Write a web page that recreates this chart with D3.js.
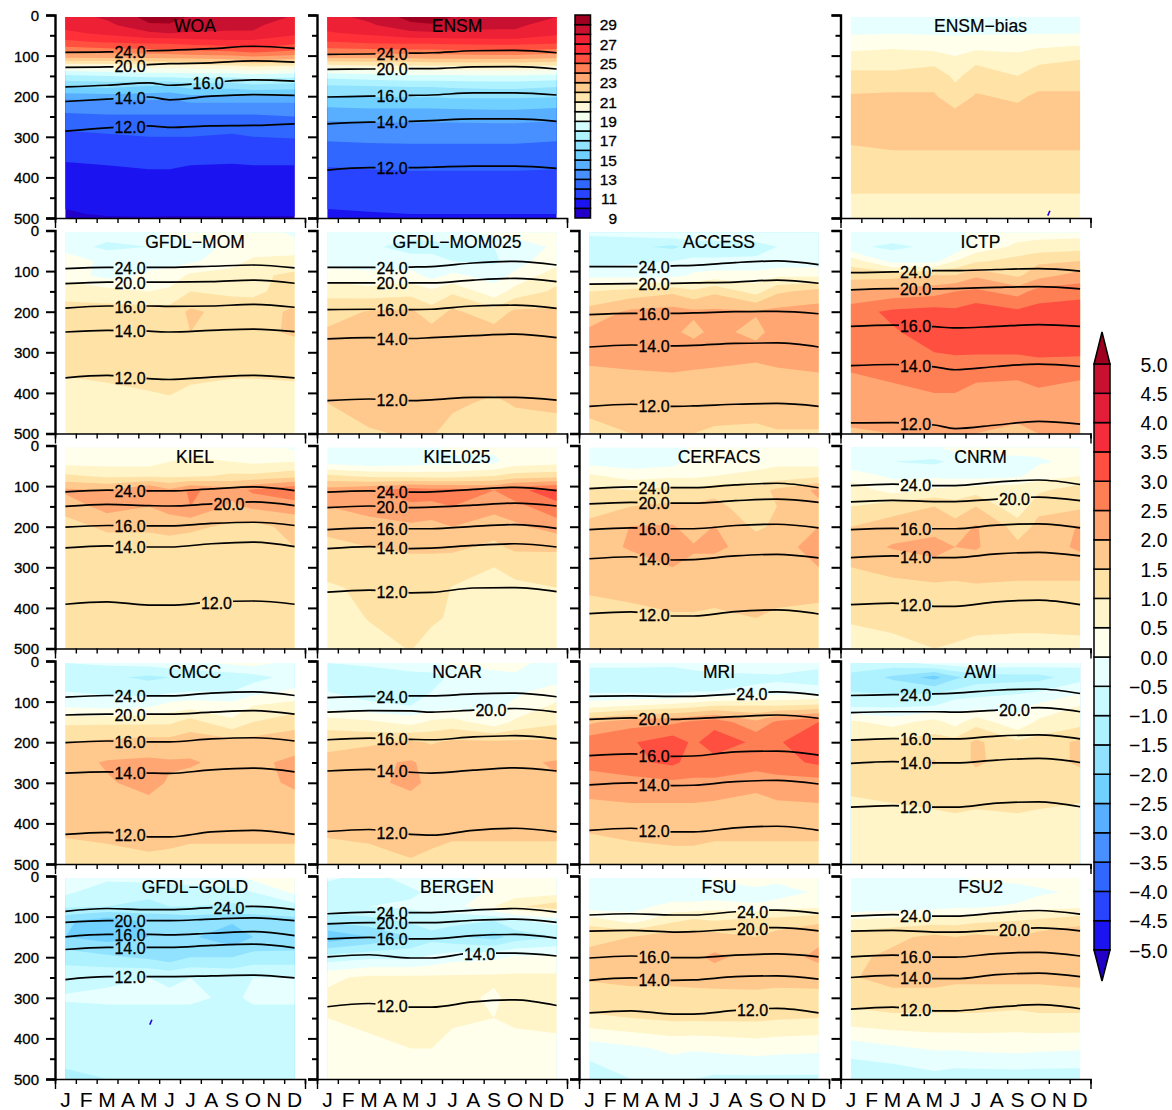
<!DOCTYPE html>
<html><head><meta charset="utf-8">
<script src="https://cdn.jsdelivr.net/npm/d3@7"></script>
<style>html,body{margin:0;background:#fff}svg{display:block}text{font-family:"Liberation Sans",Arial,sans-serif;fill:#000}</style>
</head><body><div id="c"></div>
<script>
const monthLabels = ["J","F","M","A","M","J","J","A","S","O","N","D"];
const fieldMonths = [0,2,4,5,6,8,9,11];
const lineMonths = [0,2,4,5,7,9,11];
const biasDepths = [5,40,75,110,150,200,250,300,350,425,500];
const tempDepths = [5,25,45,65,85,105,125,150,175,210,245,285,330,370,430,490,500];
const contourLevels = [24,20,16,14,12];
const depthMajor = [0,100,200,300,400,500];
const depthMinor = [50,150,250,350,450];
const biasLevels = [-5,-4.5,-4,-3.5,-3,-2.5,-2,-1.5,-1,-0.5,0,0.5,1,1.5,2,2.5,3,3.5,4,4.5,5];
const biasColors = ["#2200c8","#1c14f0","#2844ff","#3068ff","#4890ff","#58aeff","#70d0ff","#90e2ff","#aef2ff","#c8faff","#e8ffff","#ffffec","#fff5c8","#ffe2a6","#ffc88c","#ffa672","#ff7f55","#ff4f40","#f42c3c","#e21e38","#c81030","#a00020"];
const tempLevels = [9,10,11,12,13,14,15,16,17,18,19,20,21,22,23,24,25,26,27,28,29,30];
const tempColors = ["#2200c8","#1c14f0","#2844ff","#3068ff","#4890ff","#58aeff","#70d0ff","#90e2ff","#aef2ff","#d4fdff","#f4fff0","#fff8d8","#ffe6ac","#ffcc8e","#ffa672","#ff8055","#ff5040","#ff3038","#ee2036","#c81030","#a00020"];
const tempBarLabels = [29,27,25,23,21,19,17,15,13,11,9];

const WOA_field = [
[27.5,28.2,29.3,29.4,28.9,28.6,28.5,27.9],[27.3,27.7,28.9,28.9,28.4,28.2,28.2,27.4],[26.8,27.2,27.8,28.0,27.9,27.9,27.9,27.2],
[25.8,26.2,26.4,26.4,26.6,26.8,26.8,26.4],[24.6,24.8,24.9,25.0,25.2,25.4,25.8,25.2],[23.0,23.1,23.1,23.2,23.3,23.5,23.7,23.4],
[20.3,20.4,20.6,20.6,20.7,20.9,21.2,20.9],[17.8,18.0,18.3,18.3,18.4,18.3,18.6,18.3],[16.1,16.3,16.0,15.9,16.4,16.4,16.7,16.5],
[13.9,14.0,14.0,13.9,14.2,14.2,14.2,14.2],[12.9,13.0,13.0,13.0,13.0,13.0,13.0,13.1],[12.0,12.1,12.2,12.2,12.2,12.1,12.2,12.3],
[11.4,11.5,11.6,11.6,11.6,11.5,11.6,11.6],[10.9,11.0,11.1,11.1,11.0,10.95,11.0,11.0],[10.4,10.5,10.5,10.5,10.5,10.4,10.5,10.5],
[9.9,10.1,10.1,10.05,10.05,10.05,10.05,10.05],[9.8,9.9,9.95,9.95,9.95,9.95,9.95,9.95]];
const ENSM_field = [
[27.6,28.3,29.3,29.5,29.0,28.6,28.6,28.0],[27.3,27.8,28.8,28.9,28.3,28.2,28.2,27.5],[26.9,27.2,27.7,27.8,27.8,27.8,27.8,27.2],
[26.0,26.3,26.4,26.4,26.5,26.6,26.6,26.4],[24.8,24.9,25.0,25.0,25.1,25.2,25.2,24.9],[23.1,23.2,23.2,23.3,23.3,23.4,23.4,23.2],
[20.7,20.9,20.9,21.0,21.0,21.1,21.1,20.9],[18.4,18.6,18.8,18.8,18.8,18.9,18.9,18.7],[16.9,17.0,17.1,17.1,17.2,17.3,17.3,17.1],
[15.6,15.7,15.7,15.7,15.8,15.8,15.8,15.7],[14.4,14.5,14.5,14.5,14.5,14.6,14.6,14.4],[13.4,13.5,13.5,13.5,13.5,13.5,13.5,13.4],
[12.7,12.75,12.8,12.8,12.8,12.8,12.8,12.7],[12.05,12.1,12.15,12.15,12.15,12.15,12.15,12.1],[11.4,11.5,11.5,11.5,11.5,11.5,11.5,11.5],
[10.9,10.95,11.0,11.0,11.0,11.0,11.0,11.0],[10.85,10.9,10.95,10.95,10.95,10.95,10.95,10.9]];
const ENSM_bias = [
[-.2,-.2,-.1,-.1,-.1,-.1,-.1,-.1],[-.1,-.1,-.1,-.1,-.1,-.1,-.1,-.1],[.3,.4,.3,.2,.3,.3,.4,.5],[.8,.8,.8,.6,.9,.7,.9,1.0],
[1.1,1.1,1.3,.9,1.2,1.0,1.2,1.2],[1.55,1.6,1.55,1.2,1.55,1.4,1.6,1.6],[1.8,1.8,1.8,1.7,1.7,1.7,1.7,1.8],[1.6,1.7,1.7,1.7,1.7,1.7,1.7,1.7],
[1.35,1.4,1.4,1.4,1.4,1.4,1.4,1.4],[1.05,1.05,1.05,1.05,1.05,1.05,1.05,1.05],[.8,.8,.8,.8,.8,.8,.8,.8]];
const GFDL_MOM_bias = [
[-.2,-.3,-.2,.1,.2,.3,.3,-.1],[-.3,-.6,-.5,-.3,-.2,.1,.2,.2],[.4,-.2,-.2,-.2,-.1,.3,.6,.7],[.3,-.2,.1,.2,.6,.7,.9,1.1],
[.8,.7,.5,.6,1.0,.9,.9,1.2],[1.2,1.2,1.25,1.2,1.6,1.3,1.25,1.6],[1.2,1.3,1.5,1.3,1.5,1.3,1.3,1.6],[1.1,1.2,1.2,1.2,1.2,1.2,1.2,1.2],
[1.03,1.1,1.15,1.15,1.1,1.05,1.05,1.08],[.8,.8,.9,.95,.85,.8,.8,.8],[.7,.7,.7,.7,.7,.7,.7,.7]];
const GFDL_MOM025_bias = [
[-.3,-.4,-.3,-.2,-.1,.1,.2,.1],[-.3,-.4,-.7,-.7,-.6,-.5,-.3,.1],[-.2,-.2,-.3,-.3,-.5,-.6,-.2,.3],[.2,.1,.2,-.2,.1,-.2,.1,.8],
[.9,.7,.8,.6,.9,.2,.7,1.1],[1.2,1.55,1.6,1.2,1.6,1.2,1.6,1.6],[1.6,1.7,1.8,1.7,1.8,1.7,1.8,1.8],[1.8,1.8,1.8,1.8,1.8,1.8,1.8,1.8],
[1.8,1.8,1.8,1.8,1.8,1.8,1.8,1.8],[1.5,1.7,1.7,1.7,1.6,1.4,1.55,1.6],[1.2,1.45,1.55,1.55,1.3,1.2,1.2,1.3]];
const ACCESS_bias = [
[-.4,-.3,-.1,-.1,-.1,-.1,-.1,-.1],[-.8,-.9,-1.1,-.8,-.8,-.7,-.5,-.3],[-.7,-.6,-.5,-.4,-.4,-.4,-.4,-.3],[-.2,-.2,-.2,.1,.2,.2,.4,.4],
[1.0,1.2,1.4,1.1,1.4,.8,1.4,1.7],[1.7,2.1,2.2,2.1,2.1,2.05,2.15,2.2],[2.1,2.3,2.1,1.85,2.15,1.85,2.2,2.2],[2.2,2.3,2.3,2.3,2.3,2.2,2.3,2.3],
[1.9,1.95,2.0,1.95,1.9,1.8,1.9,2.0],[1.7,1.8,1.8,1.8,1.8,1.7,1.8,1.8],[1.3,1.5,1.55,1.5,1.4,1.4,1.45,1.45]];
const ICTP_bias = [
[-.2,-.2,-.1,-.1,.1,.3,.3,.3],[-.4,-.6,-.4,-.4,.2,.6,.7,.8],[.8,-.2,-.2,.5,.9,1.2,1.4,1.5],[1.3,1.3,1.5,1.5,1.9,1.4,1.8,2.2],
[2.0,2.2,2.3,2.5,2.6,2.3,2.7,2.8],[2.8,3.1,3.2,3.1,3.3,3.1,3.2,3.3],[2.7,2.95,3.2,3.3,3.3,3.3,3.3,3.3],[2.7,2.8,3.0,3.05,3.05,3.05,3.1,3.1],
[2.5,2.6,2.7,2.7,2.6,2.6,2.7,2.6],[2.2,2.3,2.4,2.4,2.3,2.2,2.3,2.2],[1.95,2.0,2.0,2.0,2.0,1.9,2.0,2.0]];
const KIEL_bias = [
[.1,.1,.1,.2,.3,.2,.2,-.1],[.3,.3,.3,.5,.6,.5,.4,.5],[1.1,.9,.9,.9,.9,1.1,1.1,1.3],[2.1,2.0,2.6,2.1,2.6,2.2,2.6,3.0],
[1.7,2.2,2.0,2.2,2.5,1.9,2.1,2.2],[1.3,1.6,1.6,1.7,1.6,1.4,1.3,1.7],[1.25,1.25,1.25,1.25,1.25,1.25,1.25,1.5],[1.2,1.2,1.2,1.2,1.2,1.2,1.2,1.2],
[1.2,1.2,1.2,1.2,1.2,1.2,1.2,1.2],[1.2,1.2,1.2,1.2,1.2,1.2,1.2,1.2],[1.15,1.15,1.15,1.15,1.15,1.15,1.15,1.15]];
const KIEL025_bias = [
[-.3,-.2,-.1,-.1,.2,.1,.2,.2],[-.2,-.4,-.3,-.2,-.2,-.1,.2,.3],[1.1,.9,.8,.8,.8,1.0,1.2,1.3],[2.2,2.4,2.8,2.7,2.7,2.5,2.9,3.2],
[2.0,2.1,2.4,2.4,2.5,2.2,2.3,2.9],[1.7,1.9,1.9,1.8,2.0,1.7,1.9,2.2],[1.3,1.5,1.6,1.6,1.6,1.4,1.6,1.6],[1.25,1.3,1.3,1.3,1.25,1.0,1.15,1.2],
[.9,1.15,1.2,1.2,.98,.8,.9,1.0],[.8,1.02,1.15,1.06,.95,.7,.7,.7],[.7,.85,1.02,.85,.7,.7,.7,.6]];
const CERFACS_bias = [
[-.3,-.1,-.2,.1,.2,.5,.3,.2],[-.2,-.3,-.2,.1,.2,.2,.4,.3],[.6,.3,.4,.4,.5,.7,.7,.9],[1.1,1.0,1.2,1.1,1.3,1.3,1.6,2.1],
[1.35,1.5,1.6,1.6,1.7,1.1,1.5,1.9],[1.6,2.02,2.05,1.75,2.02,1.4,1.6,2.0],[1.8,2.05,2.2,2.05,2.1,1.8,1.9,2.1],[1.7,1.8,2.0,1.9,1.8,1.7,1.7,2.0],
[1.6,1.7,1.7,1.7,1.7,1.7,1.7,1.7],[1.2,1.3,1.45,1.45,1.4,1.5,1.4,1.3],[1.2,1.2,1.2,1.2,1.2,1.2,1.2,1.2]];
const CNRM_bias = [
[-.3,-.2,-.1,.2,.3,.4,.2,.2],[-.4,-.5,-.6,-.4,-.3,-.3,-.1,.2],[.3,-.1,-.1,-.2,-.2,-.1,.3,.5],[.8,.3,.6,.7,.8,.9,.9,1.3],
[1.0,1.3,1.5,1.2,1.5,.6,1.4,1.4],[1.5,1.7,1.8,1.7,2.05,1.3,1.6,2.05],[1.7,2.05,2.2,2.0,2.05,1.6,1.7,2.1],[1.5,1.6,1.8,1.7,1.7,1.6,1.6,1.7],
[1.35,1.4,1.4,1.4,1.45,1.45,1.45,1.4],[1.05,1.1,1.2,1.2,1.2,1.2,1.2,1.2],[.8,.9,1.0,.95,.85,.8,.8,.85]];
const CMCC_bias = [
[-.5,-.4,-.3,-.2,-.1,.1,.2,-.2],[-.7,-.9,-1.1,-1.0,-.9,-.8,-.7,-.3],[-.5,-.6,-.7,-.6,-.5,-.5,-.2,.1],[-.1,-.2,-.1,.2,.3,.2,.5,.7],
[.9,.9,.9,.9,1.2,.6,1.0,1.3],[1.5,1.6,1.7,1.7,1.8,1.7,1.7,1.8],[1.8,2.05,2.1,2.05,2.05,1.85,1.9,2.1],[1.8,1.95,2.15,1.95,1.85,1.8,1.8,2.1],
[1.8,1.85,1.9,1.85,1.8,1.8,1.8,1.8],[1.55,1.6,1.65,1.6,1.6,1.6,1.6,1.6],[1.2,1.3,1.4,1.4,1.3,1.3,1.3,1.3]];
const NCAR_bias = [
[-.5,-.4,-.2,-.1,.1,.2,.2,-.3],[-.7,-.8,-.7,-.7,-.4,-.2,-.1,-.2],[-.5,-.7,-.6,-.5,-.2,-.2,-.1,.2],[-.3,-.4,-.5,-.3,-.2,-.1,.1,.6],
[.8,.6,.3,.6,.7,.2,.6,.9],[1.3,1.4,1.6,1.45,1.6,1.6,1.6,1.6],[1.7,1.9,2.05,1.85,1.95,1.85,1.9,2.05],[1.8,1.9,2.1,1.9,1.85,1.8,1.8,1.95],
[1.85,1.85,1.85,1.85,1.85,1.85,1.85,1.85],[1.55,1.6,1.7,1.6,1.6,1.6,1.6,1.6],[1.2,1.3,1.45,1.4,1.2,1.2,1.2,1.2]];
const MRI_bias = [
[-.4,-.3,-.3,-.2,-.1,-.2,-.1,-.2],[-.7,-.9,-1.0,-.8,-.7,-.6,-.6,-.9],[-.6,-.6,-.7,-.5,-.5,-.4,-.3,-.2],[.3,.5,.7,.8,1.0,1.0,1.0,1.1],
[1.9,2.3,2.4,2.6,2.8,2.1,2.6,3.0],[2.8,2.95,3.3,2.9,3.3,2.9,2.95,3.3],[2.7,2.9,3.1,2.8,2.8,2.8,2.8,3.1],[2.2,2.3,2.4,2.4,2.4,2.1,2.3,2.3],
[1.95,2.0,2.0,2.0,1.95,1.9,1.95,2.0],[1.5,1.6,1.7,1.7,1.6,1.6,1.6,1.6],[1.2,1.2,1.2,1.2,1.2,1.2,1.2,1.2]];
const AWI_bias = [
[-.8,-.7,-.3,-.2,-.1,-.2,-.2,-.4],[-1.1,-1.6,-2.2,-1.6,-1.3,-1.2,-1.2,-.7],[-1.0,-1.1,-1.1,-.9,-.7,-.6,-.5,-.1],[-.6,-.6,-.5,-.2,-.2,-.1,.1,.5],
[.6,.3,.7,.3,.8,.1,.6,.8],[1.05,1.1,1.2,1.2,1.6,1.1,1.2,1.6],[1.2,1.3,1.55,1.2,1.6,1.2,1.2,1.6],[1.1,1.2,1.2,1.2,1.2,1.2,1.2,1.2],
[.95,1.0,1.05,1.1,1.05,1.1,1.05,1.0],[.8,.8,.8,.8,.8,.8,.8,.8],[.8,.8,.8,.8,.8,.8,.8,.8]];
const GFDL_GOLD_bias = [
[-.3,-.4,-.3,-.3,-.3,-.1,.1,.2],[-.4,-.8,-.9,-.8,-.7,-.7,-.5,.1],[-.9,-1.0,-1.1,-1.0,-1.0,-1.1,-1.0,-.7],[-1.9,-2.3,-1.9,-1.9,-1.8,-1.9,-1.9,-1.8],
[-2.0,-2.2,-2.0,-1.9,-1.9,-2.4,-2.0,-1.9],[-1.2,-1.4,-1.6,-1.8,-1.5,-1.5,-1.3,-1.3],[-.7,-.6,-.5,-.6,-.5,-.6,-.5,-.5],[-.45,-.4,-.4,-.4,-.4,-.6,-.4,-.4],
[-.7,-.7,-.7,-.7,-.7,-.7,-.7,-.7],[-.8,-.8,-.8,-.8,-.8,-.8,-.8,-.8],[-1.1,-1.0,-.9,-.9,-.9,-.9,-1.0,-1.0]];
const BERGEN_bias = [
[-.4,-.7,-.3,-.2,-.3,.2,.3,.2],[-.8,-.7,-.6,-.4,-.3,.1,.2,.3],[-.6,-.5,-.4,-.3,-.2,.5,.9,1.3],[-1.4,-1.2,-.9,-.7,-.8,-1.0,-.6,-.3],
[-2.4,-2.0,-1.5,-1.2,-1.4,-1.7,-1.3,-1.0],[-.8,-.6,-.6,-.4,-.2,-.1,.1,.1],[.4,.6,.6,.6,.6,.6,.6,.6],[.6,.7,.7,.7,.7,.4,.7,.7],
[.5,.6,.7,.7,.6,.5,.6,.7],[.3,.4,.5,.5,.3,.3,.3,.3],[.3,.3,.3,.3,.3,.3,.3,.3]];
const FSU_bias = [
[-.2,-.3,-.2,-.2,.1,.5,.2,.1],[-.4,-.4,-.4,-.4,-.4,-.3,-.3,.1],[-.3,-.2,.2,.2,.3,.1,.3,.4],[.8,.3,.9,1.1,1.0,1.2,1.2,1.4],
[1.4,1.5,1.8,1.7,1.7,1.5,1.7,1.9],[1.6,1.8,1.9,1.9,2.1,1.8,1.8,2.1],[1.55,1.65,1.65,1.7,1.75,1.8,1.7,1.75],[1.3,1.3,1.3,1.3,1.3,1.3,1.3,1.3],
[.9,1.0,1.1,1.1,1.1,1.1,1.05,1.0],[-.3,-.1,.1,.05,.1,.2,.15,.1],[-.8,-.5,-.4,-.5,-.6,-.6,-.6,-.6]];
const FSU2_bias = [
[-.1,-.2,-.2,-.1,.1,.2,.2,.1],[-.4,-.5,-.5,-.4,-.3,-.3,-.1,.1],[-.4,-.3,-.2,-.1,-.1,.1,.3,.4],[.6,.7,.8,.8,.9,1.0,1.1,1.3],
[1.2,1.4,1.6,1.5,1.6,1.5,1.7,1.9],[1.4,1.6,1.8,1.7,1.65,1.6,1.7,1.95],[1.45,1.7,1.7,1.6,1.6,1.6,1.6,1.7],[1.2,1.3,1.3,1.3,1.3,1.3,1.3,1.3],
[.8,.9,.9,.9,.9,.8,.9,.9],[-.3,-.1,.05,.05,.1,.15,.1,.05],[-.9,-.9,-.7,-.8,-.8,-.8,-.8,-.8]];

// isotherm depths, one row per level in contourLevels order
const WOA_lines = [[92,91,88,87,83,77,82],[129,128,122,120,118,113,116],[177,173,167,173,166,160,163],[213,207,202,209,200,196,198],[286,278,273,277,273,272,268]];
const ENSM_lines = [[97,96,94,93,88,87,93],[134,133,132,132,128,127,133],[202,200,198,197,192,192,197],[268,264,262,260,256,256,262],[382,376,376,375,372,372,378]];
const GFDL_MOM_lines = [[94,91,91,91,88,85,92],[131,127,127,127,126,122,130],[191,186,186,187,186,182,189],[250,246,248,250,246,243,249],[363,357,365,367,361,357,363]];
const GFDL_MOM025_lines = [[91,91,90,89,80,76,85],[129,129,129,129,122,118,126],[195,194,195,194,186,184,192],[267,264,266,264,259,255,264],[419,415,419,417,411,411,418]];
const ACCESS_lines = [[89,89,87,86,79,75,84],[132,131,130,129,127,122,130],[207,204,204,203,200,199,205],[287,282,284,283,278,277,287],[433,428,433,432,428,426,433]];
const ICTP_lines = [[104,102,99,99,96,94,100],[146,143,144,143,140,138,144],[236,233,237,240,236,232,236],[333,330,336,343,335,329,335],[474,473,479,488,479,470,477]];
const KIEL_lines = [[114,110,112,112,107,102,111],[150,145,148,149,144,139,148],[201,197,198,198,192,189,197],[252,247,250,250,242,238,249],[391,385,393,393,386,383,391]];
const KIEL025_lines = [[115,112,115,114,108,103,111],[153,149,153,152,147,142,149],[207,203,205,205,199,195,204],[254,249,254,253,246,242,250],[361,356,363,362,351,350,360]];
const CERFACS_lines = [[106,102,104,104,97,93,104],[144,140,142,142,136,132,140],[207,203,205,205,197,194,203],[279,274,282,281,272,268,277],[414,410,420,420,409,405,415]];
const CNRM_lines = [[99,95,99,99,90,85,96],[139,135,138,138,132,127,136],[207,204,205,205,196,193,203],[276,272,276,276,267,263,272],[392,388,396,396,385,381,392]];
const CMCC_lines = [[89,85,86,86,79,76,85],[133,131,131,131,126,122,131],[201,197,199,199,192,189,197],[276,273,276,277,268,264,273],[427,422,433,433,421,417,427]];
const NCAR_lines = [[90,87,86,86,81,79,88],[126,122,123,126,121,117,126],[194,190,193,194,187,184,192],[271,267,274,276,269,263,271],[420,415,427,429,417,412,421]];
const MRI_lines = [[87,86,87,87,81,76,84],[144,140,144,142,137,133,141],[233,229,235,234,224,222,232],[305,300,307,306,297,294,303],[417,412,421,421,411,407,417]];
const AWI_lines = [[85,83,81,79,72,69,80],[127,125,125,126,121,115,125],[195,191,192,192,185,182,192],[252,248,251,251,244,240,250],[360,356,360,360,350,347,359]];
const GFDL_GOLD_lines = [[87,80,83,83,78,75,83],[114,110,110,110,106,103,110],[150,144,144,145,141,137,147],[181,176,176,176,171,168,177],[255,248,248,248,246,244,251]];
const BERGEN_lines = [[93,89,90,90,84,80,89],[118,115,115,115,109,106,114],[155,151,155,155,147,144,153],[199,194,202,202,190,190,197],[322,314,323,323,310,305,319]];
const FSU_lines = [[96,93,96,96,88,84,92],[136,134,138,137,131,127,135],[202,197,201,201,195,192,199],[257,251,257,256,248,246,254],[337,332,340,340,331,326,337]];
const FSU2_lines = [[99,95,99,99,91,85,94],[136,134,138,138,133,128,135],[199,195,200,200,191,188,197],[250,245,253,253,243,239,248],[328,323,332,332,323,317,327]];

// month of the label on each isotherm, in contourLevels order
const labelDefault = [3.1,3.1,3.1,3.1,3.1];
const WOA_labels = [3.1,3.1,6.85,3.1,3.1];
const KIEL_labels = [3.1,7.85,3.1,3.1,7.25];
const LATE20_labels = [3.1,7.85,3.1,3.1,3.1];
const MRI_labels = [7.8,3.1,3.1,3.1,3.1];
const GOLD_labels = [7.85,3.1,3.1,3.1,3.1];
const BERGEN_labels = [3.1,3.1,3.1,7.3,3.1];
const FSU_labels = [7.83,7.83,3.1,3.1,7.83];

const panels = [
 {name:"WOA",col:0,row:0,field:WOA_field,depths:tempDepths,temp:true,lines:WOA_lines,labels:WOA_labels},
 {name:"ENSM",col:1,row:0,field:ENSM_field,depths:tempDepths,temp:true,lines:ENSM_lines,labels:labelDefault},
 {name:"ENSM\u2212bias",col:3,row:0,field:ENSM_bias,speck:[9.5,488]},
 {name:"GFDL\u2212MOM",col:0,row:1,field:GFDL_MOM_bias,lines:GFDL_MOM_lines,labels:labelDefault},
 {name:"GFDL\u2212MOM025",col:1,row:1,field:GFDL_MOM025_bias,lines:GFDL_MOM025_lines,labels:labelDefault},
 {name:"ACCESS",col:2,row:1,field:ACCESS_bias,lines:ACCESS_lines,labels:labelDefault},
 {name:"ICTP",col:3,row:1,field:ICTP_bias,lines:ICTP_lines,labels:labelDefault},
 {name:"KIEL",col:0,row:2,field:KIEL_bias,lines:KIEL_lines,labels:KIEL_labels},
 {name:"KIEL025",col:1,row:2,field:KIEL025_bias,lines:KIEL025_lines,labels:labelDefault},
 {name:"CERFACS",col:2,row:2,field:CERFACS_bias,lines:CERFACS_lines,labels:labelDefault},
 {name:"CNRM",col:3,row:2,field:CNRM_bias,lines:CNRM_lines,labels:LATE20_labels},
 {name:"CMCC",col:0,row:3,field:CMCC_bias,lines:CMCC_lines,labels:labelDefault},
 {name:"NCAR",col:1,row:3,field:NCAR_bias,lines:NCAR_lines,labels:LATE20_labels},
 {name:"MRI",col:2,row:3,field:MRI_bias,lines:MRI_lines,labels:MRI_labels},
 {name:"AWI",col:3,row:3,field:AWI_bias,lines:AWI_lines,labels:LATE20_labels},
 {name:"GFDL\u2212GOLD",col:0,row:4,field:GFDL_GOLD_bias,lines:GFDL_GOLD_lines,labels:GOLD_labels,speck:[4.1,360]},
 {name:"BERGEN",col:1,row:4,field:BERGEN_bias,lines:BERGEN_lines,labels:BERGEN_labels},
 {name:"FSU",col:2,row:4,field:FSU_bias,lines:FSU_lines,labels:FSU_labels},
 {name:"FSU2",col:3,row:4,field:FSU2_bias,lines:FSU2_lines,labels:LATE20_labels}
];

const W=1172,H=1110;
const colX=[55,317,579,840.5], rowY=[15,230.5,445.5,661,876], pw=250, ph=203;
const svg=d3.select("#c").append("svg").attr("width",W).attr("height",H);
const fmt=d3.format(".1f"), minus=s=>String(s).replace("-","\u2212");

panels.forEach((p,pi)=>{
  const x0=colX[p.col], y0=rowY[p.row];
  const x=d3.scaleLinear([-0.5,11.5],[x0,x0+pw]);
  const y=d3.scaleLinear([0,500],[y0,y0+ph]);
  const g=svg.append("g");
  const depths=p.depths||biasDepths;
  const nx=fieldMonths.length, ny=depths.length;
  const ixM=d3.scaleLinear(d3.range(nx),fieldMonths).clamp(true);
  const iyD=d3.scaleLinear(d3.range(ny),depths).clamp(true);
  const proj=d3.geoTransform({point(a,b){this.stream.point(x(ixM(a-0.5)),y(iyD(b-0.5)));}});
  const path=d3.geoPath(proj);
  const levels=p.temp?[-99].concat(tempLevels.slice(1,21)):[-99].concat(biasLevels);
  const cols=p.temp?tempColors:biasColors;
  const values=p.field.flat(), fieldMin=d3.min(values);
  const conts=d3.contours().size([nx,ny]).smooth(true).thresholds(levels)(values);
  // skip layers wholly covered by the next one, so their colour does not fringe the edge
  const shown=conts.map((c,i)=>({c,i})).filter(o=>o.i+1>=levels.length||levels[o.i+1]>fieldMin);
  g.selectAll("path.f").data(shown).join("path").attr("class","f")
    .attr("d",o=>path(o.c)).attr("fill",o=>cols[o.i]);
  if(p.speck){
    g.append("path").attr("d",d3.line()([[x(p.speck[0]-0.05),y(p.speck[1]+6)],[x(p.speck[0]+0.05),y(p.speck[1]-6)]]))
      .attr("stroke","#2200e0").attr("stroke-width",1.6).attr("fill","none");
  }
  (p.lines||[]).forEach((ds,li)=>{
    const lm=p.labels[li];
    const lx=x(lm), hw=16.5;
    const ly=y(d3.scaleLinear(lineMonths,ds)(lm));
    const id=`clip${pi}_${li}`;
    const cp=svg.append("clipPath").attr("id",id);
    cp.append("rect").attr("x",x0).attr("y",y0-5).attr("width",lx-hw-x0).attr("height",ph+10);
    cp.append("rect").attr("x",lx+hw).attr("y",y0-5).attr("width",x0+pw-lx-hw).attr("height",ph+10);
    g.append("path").attr("clip-path",`url(#${id})`)
      .attr("d",d3.line().x((d,i)=>x(lineMonths[i])).y(d=>y(d)).curve(d3.curveMonotoneX)(ds))
      .attr("fill","none").attr("stroke","#000").attr("stroke-width",1.7);
    g.append("text").attr("x",lx).attr("y",ly+6.5).attr("text-anchor","middle")
      .attr("font-size",16).attr("stroke","#000").attr("stroke-width",0.3).text(fmt(contourLevels[li]));
  });
  g.append("text").attr("x",x0+140).attr("y",y0+17).attr("text-anchor","middle").attr("font-size",17.5).attr("stroke","#000").attr("stroke-width",0.2).text(p.name);

  // axes
  const ax=g.append("g").attr("transform",`translate(${x0},0)`)
    .call(d3.axisLeft(y).tickValues(depthMajor).tickSize(9).tickFormat(p.col===0?d3.format("d"):""));
  ax.selectAll("text").attr("font-size",15).attr("font-family",null).attr("stroke","#000").attr("stroke-width",0.3).attr("x",-16).attr("dy","0.36em");
  ax.selectAll("line").attr("stroke","#000").attr("stroke-width",2);
  ax.select(".domain").attr("stroke","#000").attr("stroke-width",2.4);
  const am=g.append("g").attr("transform",`translate(${x0},0)`)
    .call(d3.axisLeft(y).tickValues(depthMinor).tickSize(5).tickFormat(""));
  am.selectAll("line").attr("stroke","#000").attr("stroke-width",2);
  am.select(".domain").remove();

  const tv=d3.range(13).map(i=>i-0.5);
  const bx=g.append("g").attr("transform",`translate(0,${y0+ph})`)
    .call(d3.axisBottom(x).tickValues(tv.slice(1,12)).tickSize(5).tickFormat(""));
  bx.selectAll("line").attr("stroke","#000").attr("stroke-width",1.4);
  bx.select(".domain").attr("stroke","#000").attr("stroke-width",1.6);
  const be=g.append("g").attr("transform",`translate(0,${y0+ph})`)
    .call(d3.axisBottom(x).tickValues([tv[0],tv[12]]).tickSize(10).tickFormat(""));
  be.selectAll("line").attr("stroke","#000").attr("stroke-width",1.4);
  be.select(".domain").remove();
  if(p.row===4){
    g.selectAll("text.m").data(monthLabels).join("text").attr("class","m")
      .attr("x",(d,i)=>x(i)).attr("y",y0+ph+27.5).attr("text-anchor","middle").attr("font-size",21).text(d=>d);
  }
});

// temperature colour bar
const ty=d3.scaleLinear([9,30],[218,15]);
const tb=svg.append("g");
tb.selectAll("rect").data(tempColors).join("rect")
  .attr("x",575).attr("width",15.5).attr("y",(d,i)=>ty(tempLevels[i+1])).attr("height",(d,i)=>ty(tempLevels[i])-ty(tempLevels[i+1]))
  .attr("fill",d=>d).attr("stroke","#000").attr("stroke-width",1.5);
tb.selectAll("text").data(tempBarLabels).join("text").attr("x",617).attr("y",d=>ty(d)+5.5).attr("text-anchor","end")
  .attr("font-size",15.5).attr("stroke","#000").attr("stroke-width",0.3).text(d=>d);

// bias colour bar
const by=d3.scaleLinear([-5,5],[950,364]);
const bb=svg.append("g");
const inner=biasColors.slice(1,21);
bb.selectAll("rect").data(inner).join("rect")
  .attr("x",1094).attr("width",16).attr("y",(d,i)=>by(biasLevels[i+1])).attr("height",(d,i)=>by(biasLevels[i])-by(biasLevels[i+1]))
  .attr("fill",d=>d).attr("stroke","#000").attr("stroke-width",1.5);
bb.append("path").attr("d",d3.line()([[1094,by(5)],[1102,332],[1110,by(5)]])+"Z").attr("fill",biasColors[21]).attr("stroke","#000").attr("stroke-width",1.5);
bb.append("path").attr("d",d3.line()([[1094,by(-5)],[1102,981],[1110,by(-5)]])+"Z").attr("fill",biasColors[0]).attr("stroke","#000").attr("stroke-width",1.5);
bb.selectAll("text").data(biasLevels).join("text").attr("x",1167.5).attr("y",d=>by(d)+7.5).attr("text-anchor","end")
  .attr("font-size",19.5).text(d=>minus(fmt(d)));
</script></body></html>
